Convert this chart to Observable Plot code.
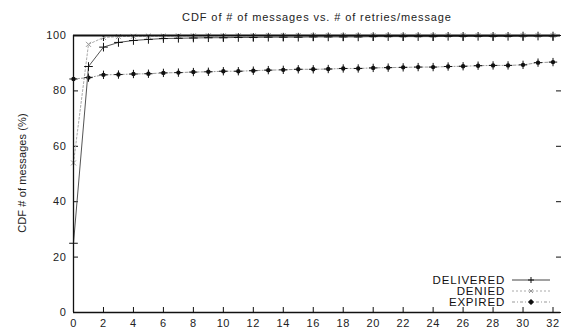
<!DOCTYPE html>
<html>
<head>
<meta charset="utf-8">
<script src="https://cdn.jsdelivr.net/npm/d3@7"></script>
<script src="https://cdn.jsdelivr.net/npm/@observablehq/plot@0.6"></script>
<style>
  html, body { margin: 0; padding: 0; background: #fff; }
  svg { display: block; }
</style>
</head>
<body>
<div id="chart"></div>
<script>
const titleText = "CDF of # of messages vs. # of retries/message";
const yLabel = "CDF # of messages (%)";
const retries = [0,1,2,3,4,5,6,7,8,9,10,11,12,13,14,15,16,17,18,19,20,21,22,23,24,25,26,27,28,29,30,31,32];
const delivered = [25, 88.8, 95.8, 97.5, 98.2, 98.6, 98.9, 99.0, 99.1, 99.2, 99.2, 99.3, 99.3, 99.4, 99.4, 99.4, 99.5, 99.5, 99.5, 99.5, 99.6, 99.6, 99.6, 99.6, 99.6, 99.7, 99.7, 99.7, 99.7, 99.7, 99.8, 99.8, 99.8];
const denied = [54, 96.8, 99.3, 99.6, 99.7, 99.8, 99.8, 99.9, 99.9, 99.9, 99.9, 99.9, 99.9, 100, 100, 100, 100, 100, 100, 100, 100, 100, 100, 100, 100, 100, 100, 100, 100, 100, 100, 100, 100];
const expired = [84.3, 84.8, 85.8, 85.9, 86.1, 86.2, 86.5, 86.6, 86.8, 86.9, 87.1, 87.1, 87.3, 87.5, 87.6, 87.8, 87.8, 87.9, 88.1, 88.1, 88.3, 88.4, 88.5, 88.6, 88.6, 88.8, 88.9, 89.1, 89.2, 89.2, 89.4, 90.2, 90.4];
const seriesNames = ["DELIVERED", "DENIED", "EXPIRED"];
const xTicks = [0,2,4,6,8,10,12,14,16,18,20,22,24,26,28,30,32];
const yTicks = [0,20,40,60,80,100];

const rows = (vals) => retries.map((x, i) => ({x, y: vals[i]}));
const dDel = rows(delivered), dDen = rows(denied), dExp = rows(expired);

const ink = "#111";
const fmt = d => String(d);

const chart = Plot.plot({
  width: 561,
  height: 331,
  marginLeft: 73,
  marginRight: 1,
  marginTop: 35,
  marginBottom: 19,
  style: {fontFamily: "'Liberation Sans', Arial, sans-serif", fontSize: "11px", color: ink, background: "#fff", letterSpacing: "0.6px"},
  x: {domain: [0, 32.5]},
  y: {domain: [0, 100]},
  marks: [
    Plot.axisX(xTicks, {anchor: "bottom", tickSize: -5, tickPadding: 12, tickFormat: fmt, label: null, stroke: ink, fill: "#222"}),
    Plot.axisX(xTicks, {anchor: "top", tickSize: -5, tickFormat: () => "", label: null, stroke: ink}),
    Plot.axisY(yTicks, {anchor: "left", tickSize: -5, tickPadding: 12, tickFormat: fmt, label: null, stroke: ink, fill: "#222"}),
    Plot.axisY(yTicks, {anchor: "right", tickSize: -5, tickFormat: () => "", label: null, stroke: ink}),
    Plot.line(dDen, {x: "x", y: "y", stroke: "#aaa", strokeWidth: 1, strokeDasharray: "2,2"}),
    Plot.dot(dDen, {x: "x", y: "y", symbol: "times", r: 2.4, stroke: "#999", strokeWidth: 1}),
    Plot.line(dExp, {x: "x", y: "y", stroke: "#999", strokeWidth: 1, strokeDasharray: "3,2,1,2"}),
    Plot.dot(dExp, {x: "x", y: "y", symbol: "circle", r: 2.2, fill: "#111", stroke: "none"}),
    Plot.dot(dExp, {x: "x", y: "y", symbol: "plus", r: 2.8, stroke: "#111", strokeWidth: 1}),
    Plot.line(dDel, {x: "x", y: "y", stroke: "#555", strokeWidth: 1}),
    Plot.dot(dDel, {x: "x", y: "y", symbol: "plus", r: 2.9, stroke: "#111", strokeWidth: 1}),
    Plot.ruleX([0], {stroke: ink, strokeWidth: 1.3}),
    Plot.ruleY([0], {stroke: ink, strokeWidth: 1.3}),
    Plot.ruleY([100], {stroke: ink, strokeWidth: 2})
  ]
});

const svg = d3.select(chart);
svg.append("text")
  .attr("x", 317).attr("y", 21)
  .attr("text-anchor", "middle")
  .attr("font-size", 11).attr("letter-spacing", "0.9px")
  .attr("fill", "#222")
  .text(titleText);

svg.append("text")
  .attr("transform", "translate(26,173) rotate(-90)")
  .attr("text-anchor", "middle")
  .attr("font-size", 11).attr("letter-spacing", "0.1px")
  .attr("fill", "#222")
  .text(yLabel);

const legendStyles = [
  {stroke: "#444", dash: null, marker: "plus"},
  {stroke: "#aaa", dash: "2,2", marker: "times"},
  {stroke: "#999", dash: "3,2,1,2", marker: "dotplus"}
];
const legendY = [280, 291, 302];
seriesNames.forEach((name, i) => {
  const y = legendY[i];
  const g = svg.append("g");
  g.append("text").attr("x", 505).attr("y", y + 4)
    .attr("text-anchor", "end").attr("font-size", 11.5).attr("letter-spacing", "0.8px")
    .attr("fill", "#111").text(name);
  const l = g.append("line").attr("x1", 512).attr("x2", 550).attr("y1", y).attr("y2", y)
    .attr("stroke", legendStyles[i].stroke).attr("stroke-width", 1);
  if (legendStyles[i].dash) l.attr("stroke-dasharray", legendStyles[i].dash);
  const m = legendStyles[i].marker;
  if (m === "plus" || m === "dotplus") {
    if (m === "dotplus") g.append("circle").attr("cx", 531).attr("cy", y).attr("r", 2.2).attr("fill", "#111");
    g.append("path").attr("d", `M528,${y}H534M531,${y-3}V${y+3}`).attr("stroke", "#111").attr("fill", "none");
  } else {
    g.append("path").attr("d", `M529,${y-2}L533,${y+2}M529,${y+2}L533,${y-2}`).attr("stroke", "#999").attr("fill", "none");
  }
});

document.getElementById("chart").appendChild(chart);
</script>
</body>
</html>
